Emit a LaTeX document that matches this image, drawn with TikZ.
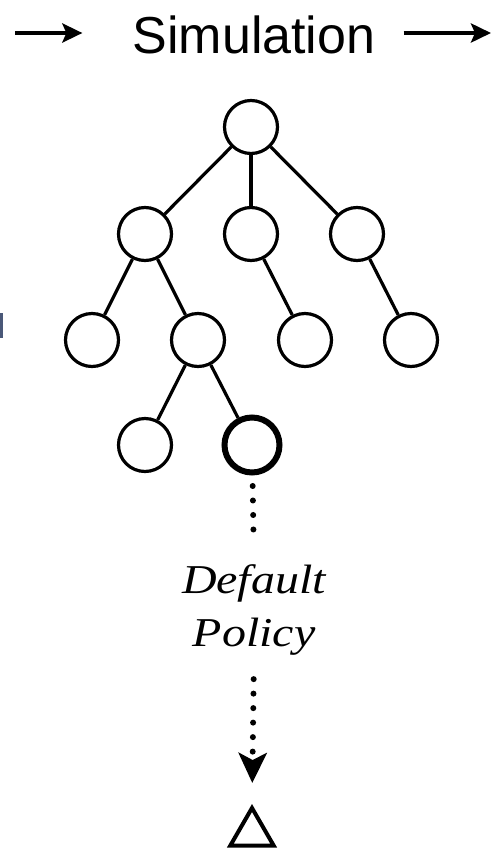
\documentclass[tikz,border=0pt]{standalone}
\usepackage{fontspec}
\newfontfamily\titlefont{Liberation Sans}
\newfontfamily\labelfont{Liberation Serif}
\usetikzlibrary{arrows.meta,shapes.geometric}
\definecolor{fragblue}{HTML}{4A5878}
\begin{document}
\begin{tikzpicture}[x=1pt,y=-1pt,
  state/.style={circle,draw,line width=3.2pt,minimum size=53pt,inner sep=0pt},
  current/.style={circle,draw,line width=6pt,minimum size=55pt,inner sep=0pt},
  edge/.style={line width=3.2pt},
  flow/.style={line width=4pt,-{Stealth[length=20pt,width=19pt,inset=4pt]}},
  rollout/.style={line width=6pt,line cap=round,dash pattern=on 0pt off 14.5pt},
  terminal/.style={regular polygon,regular polygon sides=3,draw,line width=4pt,minimum size=50pt,inner sep=0pt}]
\useasboundingbox (0,0) rectangle (493,852);

% cut-off letter at the left edge
\fill[fragblue] (0,313) rectangle (3,338);

% heading with the flow arrows on either side
\node[font=\titlefont\fontsize{52}{60}\selectfont,inner sep=0pt,anchor=base] (title) at (254,53) {Simulation};
\coordinate (inL) at (15,33);
\coordinate (outR) at (491,33);
\draw[flow,shorten >=50pt] (inL) -- (title.west |- inL);
\draw[flow,shorten <=28pt] (title.east |- outR) -- (outR);

% search tree
\node[state] (r) at (251,127) {};
\node[state] (a) at (145,234) {};
\node[state] (b) at (251,234) {};
\node[state] (c) at (357,234) {};
\node[state] (aa) at (92,340) {};
\node[state] (ab) at (198,340) {};
\node[state] (ba) at (305,340) {};
\node[state] (ca) at (411,340) {};
\node[state] (aba) at (145,445) {};
\node[current] (abb) at (252,445) {};

\draw[edge] (r) -- (a);
\draw[edge] (r) -- (b);
\draw[edge] (r) -- (c);
\draw[edge] (a) -- (aa);
\draw[edge] (a) -- (ab);
\draw[edge] (b) -- (ba);
\draw[edge] (c) -- (ca);
\draw[edge] (ab) -- (aba);
\draw[edge] (ab) -- (abb);

% default policy rollout down to the terminal value
\node[font=\labelfont\itshape\fontsize{41}{53}\selectfont,align=center,inner sep=0pt,anchor=north,xscale=1.17] (dp) at (254,564) {Default\\Policy};
\node[terminal] (term) at (252,833) {};

\draw[rollout,shorten <=10.5pt,shorten >=24pt] (abb) -- (dp.north);
\draw[rollout,shorten <=24pt,shorten >=21pt,-{Stealth[length=30pt,width=28pt,inset=7pt]}] (dp.south) -- (term.north);
\end{tikzpicture}
\end{document}
